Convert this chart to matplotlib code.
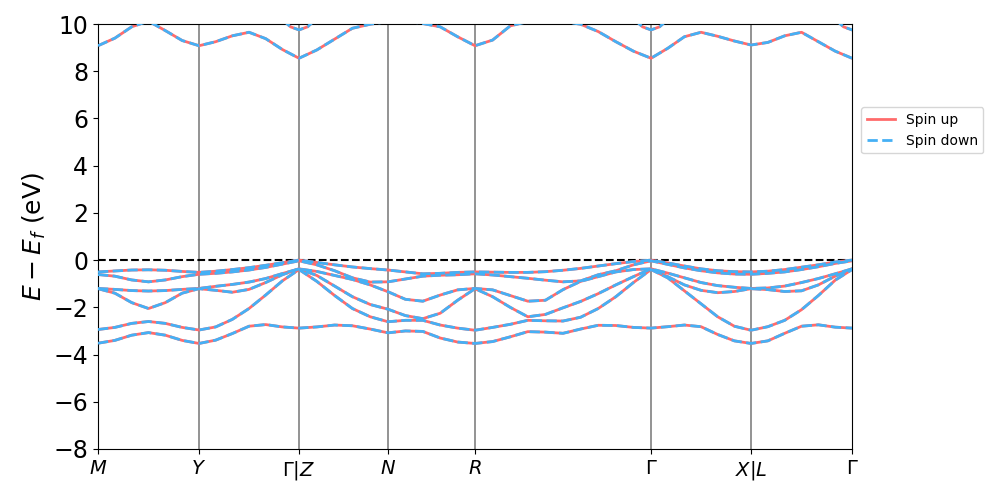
import numpy as np
import matplotlib.pyplot as plt

# high-symmetry path
kpath_labels = ['$M$', '$Y$', r'$\Gamma|Z$', '$N$', '$R$', r'$\Gamma$', r'$X|L$', r'$\Gamma$']
kpath_pos = [0.0, 1.01, 2.01, 2.90, 3.77, 5.53, 6.53, 7.54]
seg_steps = [6, 6, 5, 5, 10, 6, 6]

# valence bands (eV), one value per k sample
band1 = [-0.50, -0.46, -0.42, -0.41, -0.43, -0.48, -0.52, -0.47, -0.40, -0.32, -0.22, -0.11, 0.00,
         -0.10, -0.20, -0.29, -0.36, -0.42, -0.50, -0.58, -0.56, -0.52, -0.50,
         -0.51, -0.52, -0.52, -0.49, -0.43, -0.35, -0.25, -0.15, -0.06, 0.00,
         -0.12, -0.25, -0.37, -0.45, -0.49, -0.50, -0.47, -0.40, -0.30, -0.20, -0.08, 0.00]
band2 = [-0.61, -0.68, -0.84, -0.92, -0.84, -0.70, -0.60, -0.56, -0.50, -0.42, -0.31, -0.17, -0.03,
         -0.20, -0.45, -0.75, -0.93, -0.92, -0.80, -0.68, -0.64, -0.62, -0.58,
         -0.63, -0.70, -0.77, -0.85, -0.92, -0.88, -0.62, -0.45, -0.20, -0.03,
         -0.18, -0.33, -0.45, -0.54, -0.59, -0.60, -0.56, -0.50, -0.40, -0.28, -0.14, -0.03]
band3 = [-1.20, -1.24, -1.29, -1.31, -1.29, -1.24, -1.20, -1.11, -1.03, -0.93, -0.78, -0.57, -0.37,
         -0.48, -0.65, -0.82, -1.05, -1.34, -1.66, -1.74, -1.48, -1.26, -1.20,
         -1.26, -1.50, -1.74, -1.70, -1.25, -0.90, -0.70, -0.50, -0.40, -0.37,
         -0.55, -0.75, -0.95, -1.08, -1.15, -1.20, -1.18, -1.10, -0.95, -0.78, -0.58, -0.37]
band4 = [-1.21, -1.40, -1.80, -2.05, -1.80, -1.40, -1.21, -1.28, -1.36, -1.24, -0.95, -0.62, -0.37,
         -0.65, -1.10, -1.55, -1.88, -2.08, -2.35, -2.48, -2.25, -1.70, -1.21,
         -1.55, -2.00, -2.40, -2.30, -2.02, -1.75, -1.42, -1.05, -0.70, -0.37,
         -0.70, -1.05, -1.28, -1.38, -1.33, -1.21, -1.25, -1.33, -1.30, -1.05, -0.68, -0.37]
band5 = [-2.94, -2.85, -2.68, -2.60, -2.68, -2.85, -2.96, -2.83, -2.51, -2.05, -1.48, -0.88, -0.40,
         -0.90, -1.50, -2.05, -2.40, -2.61, -2.55, -2.55, -2.75, -2.88, -2.97,
         -2.85, -2.72, -2.55, -2.57, -2.58, -2.42, -2.05, -1.55, -0.95, -0.40,
         -0.75, -1.30, -1.85, -2.40, -2.80, -2.97, -2.82, -2.55, -2.10, -1.50, -0.85, -0.40]
band6 = [-3.52, -3.40, -3.18, -3.07, -3.18, -3.40, -3.53, -3.39, -3.11, -2.80, -2.73, -2.83, -2.88,
         -2.83, -2.75, -2.78, -2.92, -3.08, -3.00, -3.02, -3.30, -3.47, -3.53,
         -3.45, -3.25, -3.03, -3.05, -3.10, -2.92, -2.76, -2.77, -2.85, -2.88,
         -2.82, -2.75, -2.82, -3.15, -3.42, -3.53, -3.42, -3.10, -2.80, -2.74, -2.84, -2.88]
# conduction bands
cond1 = [9.08, 9.40, 9.88, 10.12, 9.72, 9.30, 9.08, 9.25, 9.50, 9.65, 9.38, 8.92, 8.55,
         8.90, 9.36, 9.82, 9.99, 10.10, 10.12, 10.02, 9.88, 9.46, 9.08,
         9.32, 9.92, 10.10, 10.15, 10.10, 9.99, 9.68, 9.25, 8.85, 8.55,
         8.97, 9.46, 9.65, 9.48, 9.28, 9.11, 9.22, 9.50, 9.65, 9.25, 8.85, 8.55]
# small pocket of the next band, only seen around Gamma
cond2_dk = [-0.17, -0.085, 0.0, 0.085, 0.17]
cond2 = [10.2, 9.88, 9.75, 9.88, 10.2]
gamma_pos = [2.01, 5.53, 7.54]

# k grid along the path
k = [kpath_pos[0]]
for i, n in enumerate(seg_steps):
    k += list(np.linspace(kpath_pos[i], kpath_pos[i + 1], n + 1)[1:])
k = np.array(k)

up_color = '#ff6b6b'
dn_color = '#45b0f5'

fig = plt.figure(figsize=(9.97, 4.98), dpi=100)
ax = fig.add_axes([0.0983, 0.0984, 0.7563, 0.8534])

for x in kpath_pos[1:-1]:
    ax.axvline(x, color='gray', lw=1.2, zorder=1)
ax.axhline(0, color='k', ls='--', lw=1.5, zorder=1)

bands = [band1, band2, band3, band4, band5, band6, cond1]
for i, b in enumerate(bands):
    ax.plot(k, b, color=up_color, lw=2, zorder=2, label='Spin up' if i == 0 else None)
    ax.plot(k, b, color=dn_color, lw=2, ls='--', zorder=3, label='Spin down' if i == 0 else None)
for g in gamma_pos:
    ax.plot(g + np.array(cond2_dk), cond2, color=up_color, lw=2, zorder=2)
    ax.plot(g + np.array(cond2_dk), cond2, color=dn_color, lw=2, ls='--', zorder=3)

ax.set_xlim(kpath_pos[0], kpath_pos[-1])
ax.set_ylim(-8, 10)
ax.set_xticks(kpath_pos)
ax.set_xticklabels(kpath_labels, fontsize=14)
ax.set_yticks(range(-8, 11, 2))
ax.tick_params(axis='y', labelsize=17)
ax.set_ylabel(r'$E - E_f$ (eV)', fontsize=18)

ax.legend(loc='center left', bbox_to_anchor=(1.003, 0.75), fontsize=10)

fig.savefig('out.png', dpi=100)
